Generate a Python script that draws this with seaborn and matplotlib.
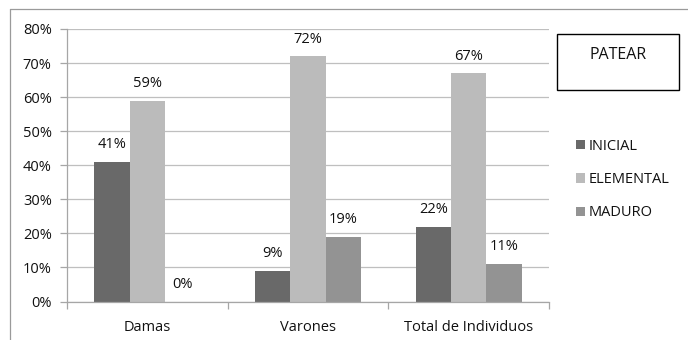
import matplotlib
matplotlib.use("Agg")
import matplotlib.pyplot as plt
from matplotlib.patches import Rectangle
from matplotlib.lines import Line2D
from matplotlib.ticker import FixedLocator, PercentFormatter
import seaborn as sns
import pandas as pd

# Grupos y niveles de desarrollo del patrón "patear"
grupos = ["Damas", "Varones", "Total de Individuos"]
niveles = ["INICIAL", "ELEMENTAL", "MADURO"]
inicial = [41, 9, 22]
elemental = [59, 72, 67]
maduro = [0, 19, 11]
colores = ["#696969", "#bbbbbb", "#939393"]
titulo = "PATEAR"

df = pd.DataFrame({
    "grupo": grupos * 3,
    "nivel": [n for n in niveles for _ in grupos],
    "valor": inicial + elemental + maduro,
})

sns.set_theme(style="white")
plt.rcParams["font.family"] = ["Open Sans", "DejaVu Sans"]
FS = 10.5
TXT = "#111111"
plt.rcParams["font.size"] = FS

W, H = 688, 340
fig = plt.figure(figsize=(W / 100, H / 100), dpi=100)
fig.patch.set_facecolor("white")

# Área de trazado en píxeles
x0, x1, ytop, ybot = 67, 549, 29, 301.5
ax = fig.add_axes([x0 / W, (H - ybot) / H, (x1 - x0) / W, (ybot - ytop) / H])

sns.barplot(data=df, x="grupo", y="valor", hue="nivel", hue_order=niveles,
            palette=colores, width=0.66, saturation=1, linewidth=0,
            ax=ax, legend=True)

ax.set_ylim(0, 80)
ax.set_xlim(-0.5, 2.5)
ax.set_yticks(range(0, 81, 10))
ax.yaxis.set_major_formatter(PercentFormatter(decimals=0))
ax.set_xlabel("")
ax.set_ylabel("")

grid_c = "#bfbfbf"
ax.yaxis.grid(True, color=grid_c, linewidth=0.9)
ax.set_axisbelow(True)
for s in ("top", "right"):
    ax.spines[s].set_visible(False)
for s in ("left", "bottom"):
    ax.spines[s].set_color("#a6a6a6")
    ax.spines[s].set_linewidth(0.9)

ax.tick_params(axis="y", length=5, width=0.9, color="#a6a6a6", pad=6,
               labelsize=FS, labelcolor=TXT, left=True)
ax.tick_params(axis="x", which="major", length=0, pad=13,
               labelsize=FS, labelcolor=TXT)
ax.xaxis.set_minor_locator(FixedLocator([-0.5, 0.5, 1.5, 2.5]))
ax.tick_params(axis="x", which="minor", length=5, width=0.9,
               color="#a6a6a6", bottom=True)

for cont in ax.containers:
    ax.bar_label(cont, fmt="%d%%", padding=7, fontsize=FS, color=TXT)

# Leyenda a la derecha
handles, labels = ax.get_legend_handles_labels()
leg = ax.legend(handles, labels, loc="upper left", frameon=False,
                bbox_to_anchor=(576 / W, (H - 139) / H), bbox_transform=fig.transFigure,
                handlelength=0.6, handleheight=0.6, handletextpad=0.3,
                labelspacing=1.25, fontsize=FS, borderaxespad=0, borderpad=0)
for t in leg.get_texts():
    t.set_color(TXT)

# Recuadro con el título
fig.add_artist(Rectangle((557 / W, (H - 90) / H), 122 / W, 56 / H,
                         transform=fig.transFigure, fill=False,
                         edgecolor="black", linewidth=1.0))
fig.text(618 / W, (H - 55) / H, titulo, ha="center", va="center",
         fontsize=11.5, color=TXT)

# Marco exterior del gráfico
frame_c = "#9a9a9a"
fig.add_artist(Line2D([10 / W, 1], [(H - 9) / H, (H - 9) / H],
                      transform=fig.transFigure, color=frame_c, linewidth=0.9))
fig.add_artist(Line2D([10 / W, 10 / W], [(H - 9) / H, 0],
                      transform=fig.transFigure, color=frame_c, linewidth=0.9))

fig.savefig("out.png", dpi=100, facecolor="white")
